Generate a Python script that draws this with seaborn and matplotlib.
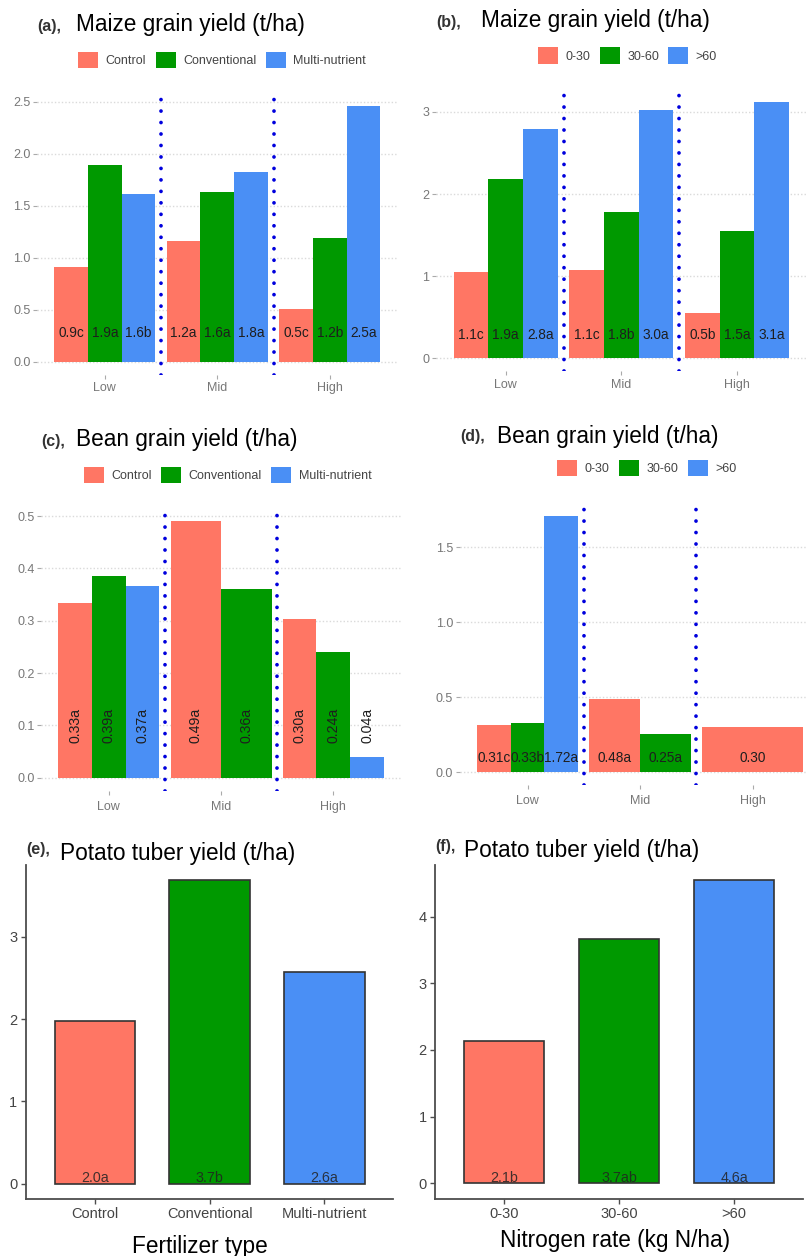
import numpy as np
import pandas as pd
import matplotlib
matplotlib.use('Agg')
import matplotlib.pyplot as plt
from matplotlib.ticker import MultipleLocator
import seaborn as sns

W, H = 806, 1256

levels = ['Low', 'Mid', 'High']
fert_types = ['Control', 'Conventional', 'Multi-nutrient']
n_rates = ['0-30', '30-60', '>60']
colors = ['#FF7664', '#009900', '#4A8FF5']

# (a) maize by fertilizer type
maize_fert_level = ['Low'] * 3 + ['Mid'] * 3 + ['High'] * 3
maize_fert_type = fert_types * 3
maize_fert = [0.91, 1.89, 1.61, 1.16, 1.63, 1.82, 0.51, 1.19, 2.46]
maize_fert_lab = ['0.9c', '1.9a', '1.6b', '1.2a', '1.6a', '1.8a', '0.5c', '1.2b', '2.5a']

# (b) maize by nitrogen rate
maize_n_level = ['Low'] * 3 + ['Mid'] * 3 + ['High'] * 3
maize_n_rate = n_rates * 3
maize_n = [1.05, 2.18, 2.79, 1.07, 1.78, 3.02, 0.55, 1.55, 3.12]
maize_n_lab = ['1.1c', '1.9a', '2.8a', '1.1c', '1.8b', '3.0a', '0.5b', '1.5a', '3.1a']

# (c) bean by fertilizer type
bean_fert_level = ['Low', 'Low', 'Low', 'Mid', 'Mid', 'High', 'High', 'High']
bean_fert_type = ['Control', 'Conventional', 'Multi-nutrient', 'Control', 'Conventional',
                  'Control', 'Conventional', 'Multi-nutrient']
bean_fert = [0.334, 0.385, 0.367, 0.491, 0.360, 0.303, 0.241, 0.040]
bean_fert_lab = ['0.33a', '0.39a', '0.37a', '0.49a', '0.36a', '0.30a', '0.24a', '0.04a']

# (d) bean by nitrogen rate
bean_n_level = ['Low', 'Low', 'Low', 'Mid', 'Mid', 'High']
bean_n_rate = ['0-30', '30-60', '>60', '0-30', '30-60', '0-30']
bean_n = [0.314, 0.33, 1.71, 0.487, 0.253, 0.301]
bean_n_lab = ['0.31c', '0.33b', '1.72a', '0.48a', '0.25a', '0.30']

# (e), (f) potato
potato_fert = [1.98, 3.685, 2.576]
potato_fert_lab = ['2.0a', '3.7b', '2.6a']
potato_n = [2.135, 3.67, 4.555]
potato_n_lab = ['2.1b', '3.7ab', '4.6a']

sns.set_theme(style='white')
plt.rcParams['font.family'] = ['Liberation Sans', 'DejaVu Sans']


def px_axes(fig, l, t, r, b):
    return fig.add_axes([l / W, 1 - b / H, (r - l) / W, (b - t) / H])


def fig_text(fig, x, y, s, **kw):
    fig.text(x / W, 1 - y / H, s, **kw)


def panel_title(fig, tag, title, tag_xy, title_xy):
    fig_text(fig, tag_xy[0], tag_xy[1], tag, fontsize=11.5, fontweight='bold',
             color='#333333', va='baseline')
    fig_text(fig, title_xy[0], title_xy[1], title, fontsize=16.3, color='black', va='baseline')


def grouped_panel(fig, rect, level, group, values, labels, hue_order, ystep,
                  lab_y, rot, lab_size, leg_xy, xpad):
    ax = px_axes(fig, *rect)
    df = pd.DataFrame({'level': level, 'group': group, 'value': values, 'label': labels})
    sns.barplot(data=df, x='level', y='value', hue='group', order=levels,
                hue_order=hue_order, palette=colors, width=0.9, gap=0, dodge=True,
                errorbar=None, saturation=1, linewidth=0, ax=ax)

    # ggplot-style dodge: bars present in a group share the whole 0.9 width
    bars = [p for p in ax.patches if np.isfinite(p.get_height()) and p.get_height() > 0]
    for i in range(len(levels)):
        grp = sorted([p for p in bars if round(p.get_x() + p.get_width() / 2) == i],
                     key=lambda p: p.get_x())
        w = 0.9 / len(grp)
        for j, p in enumerate(grp):
            p.set_x(i - 0.45 + j * w)
            p.set_width(w)

    for i, lev in enumerate(levels):
        sub = df[df.level == lev].copy()
        sub['o'] = sub.group.map(hue_order.index)
        sub = sub.sort_values('o')
        w = 0.9 / len(sub)
        for j, (_, row) in enumerate(sub.iterrows()):
            ax.text(i - 0.45 + (j + 0.5) * w, lab_y, row.label, ha='center', va='center',
                    rotation=rot, fontsize=lab_size, color='#1E1E1E')

    ymax = max(values)
    ax.set_ylim(-0.05 * ymax, 1.05 * ymax)
    ax.set_xlim(-0.6, 2.6)
    ax.yaxis.set_major_locator(MultipleLocator(ystep))
    ax.yaxis.grid(True, color='#DADADA', linestyle=(0, (1, 1.5)), lw=1)
    ax.xaxis.grid(False)
    ax.set_axisbelow(True)
    for s in ax.spines.values():
        s.set_visible(False)
    ax.tick_params(axis='both', bottom=True, left=True, length=3, width=0.8,
                   color='#AAAAAA', labelsize=9, labelcolor='#777777')
    ax.tick_params(axis='y', pad=2)
    ax.tick_params(axis='x', pad=xpad)
    ax.set_xlabel('')
    ax.set_ylabel('')

    for x in (0.5, 1.5):
        ax.axvline(x, color='#0000DD', lw=2.7, linestyle=(0, (0.01, 3.05)),
                   dash_capstyle='round', zorder=3)

    sns.move_legend(ax, 'center', bbox_to_anchor=(leg_xy[0] / W, 1 - leg_xy[1] / H),
                    bbox_transform=fig.transFigure, ncol=3, frameon=False, title=None,
                    fontsize=9, handlelength=1.6, handleheight=1.6, handletextpad=0.6,
                    columnspacing=0.75, labelcolor='#444444')
    return ax


def simple_panel(fig, rect, cats, values, labels):
    ax = px_axes(fig, *rect)
    sns.barplot(x=cats, y=values, hue=cats, order=cats, hue_order=cats, palette=colors,
                width=0.7, saturation=1, edgecolor='#333333', linewidth=1.2,
                legend=False, errorbar=None, ax=ax)
    for i, lab in enumerate(labels):
        ax.text(i, 0.02, lab, ha='center', va='baseline', fontsize=10.3, color='#222222',
                alpha=0.85)
    ymax = max(values)
    ax.set_ylim(-0.05 * ymax, 1.05 * ymax)
    ax.set_xlim(-0.6, 2.6)
    ax.yaxis.set_major_locator(MultipleLocator(1))
    for side in ('top', 'right'):
        ax.spines[side].set_visible(False)
    for side in ('left', 'bottom'):
        ax.spines[side].set_color('#4D4D4D')
        ax.spines[side].set_linewidth(1.3)
    ax.tick_params(axis='both', bottom=True, left=True, length=3.5, width=1,
                   color='#4D4D4D', labelsize=10.5, labelcolor='#444444', pad=2.5)
    ax.set_xlabel('')
    ax.set_ylabel('')
    return ax


fig = plt.figure(figsize=(W / 100, H / 100), dpi=100)

grouped_panel(fig, (37.4, 93, 397.2, 374.8), maize_fert_level, maize_fert_type, maize_fert,
              maize_fert_lab, fert_types, 0.5, 0.28, 0, 9.8, (222, 60), 2.5)
panel_title(fig, '(a),', 'Maize grain yield (t/ha)', (37.5, 31), (76.5, 31))

grouped_panel(fig, (436.4, 89.2, 806.4, 371.1), maize_n_level, maize_n_rate, maize_n,
              maize_n_lab, n_rates, 1, 0.28, 0, 9.8, (627.5, 55.5), 3)
panel_title(fig, '(b),', 'Maize grain yield (t/ha)', (436.3, 27.5), (480.7, 27.5))

grouped_panel(fig, (41.4, 508, 400.7, 790.5), bean_fert_level, bean_fert_type, bean_fert,
              bean_fert_lab, fert_types, 0.1, 0.1, 90, 10.2, (227.5, 475), 4.5)
panel_title(fig, '(c),', 'Bean grain yield (t/ha)', (41.7, 446.5), (76, 446.5))

grouped_panel(fig, (460, 502.8, 820, 785), bean_n_level, bean_n_rate, bean_n,
              bean_n_lab, n_rates, 0.5, 0.095, 0, 9.8, (647, 468.3), 4.5)
panel_title(fig, '(d),', 'Bean grain yield (t/ha)', (460.7, 441.5), (497.3, 443.3))

simple_panel(fig, (25.8, 865, 393.4, 1199), fert_types, potato_fert, potato_fert_lab)
panel_title(fig, '(e),', 'Potato tuber yield (t/ha)', (26, 854), (60, 860))
fig_text(fig, 199.5, 1253, 'Fertilizer type', fontsize=16.3, color='black',
         ha='center', va='baseline')

simple_panel(fig, (435.2, 864.5, 803.2, 1198.5), n_rates, potato_n, potato_n_lab)
panel_title(fig, '(f),', 'Potato tuber yield (t/ha)', (435.3, 851), (464, 856.7))
fig_text(fig, 615, 1246.7, 'Nitrogen rate (kg N/ha)', fontsize=16.3, color='black',
         ha='center', va='baseline')

fig.savefig('out.png', dpi=100)
